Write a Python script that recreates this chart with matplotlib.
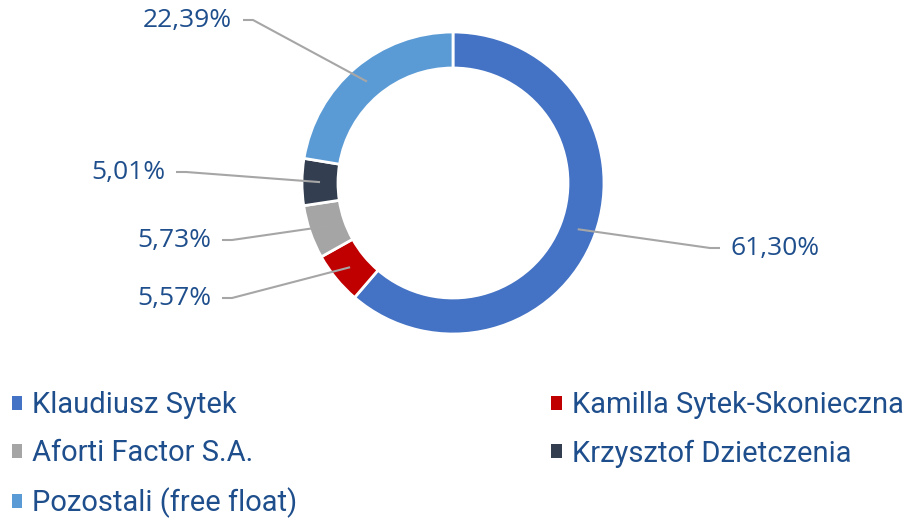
import numpy as np
import matplotlib.pyplot as plt
from matplotlib.patches import Patch

names = ['Klaudiusz Sytek', 'Kamilla Sytek-Skonieczna', 'Aforti Factor S.A.',
         'Krzysztof Dzietczenia', 'Pozostali (free float)']
shares = [61.30, 5.57, 5.73, 5.01, 22.39]
colors = ['#4472C4', '#C00000', '#A5A5A5', '#333F50', '#5B9BD5']

# label anchor points (pixels, y from top) and which side the text sits on
label_pos = [(731, 248, 'left'), (211, 298, 'right'), (211, 240, 'right'),
             (165, 172, 'right'), (232, 20, 'right')]

W, H = 917, 520
fig = plt.figure(figsize=(W / 100, H / 100), dpi=100)
ax = fig.add_axes([0, 0, 1, 1])

cx, cy, r_out, ring = 453, H - 183, 151, 36
wedges, _ = ax.pie(shares, colors=colors, center=(cx, cy), radius=r_out,
                   startangle=90, counterclock=False, frame=True,
                   wedgeprops=dict(width=ring, edgecolor='white', linewidth=2))
ax.set_xlim(0, W)
ax.set_ylim(0, H)
ax.set_aspect('equal')
ax.axis('off')

text_color = '#1E4E8C'
line_color = '#A6A6A6'
r_mid = r_out - 18
for w, val, (tx, ty, side) in zip(wedges, shares, label_pos):
    ang = np.deg2rad((w.theta1 + w.theta2) / 2)
    px = cx + r_mid * np.cos(ang)
    py = cy + r_mid * np.sin(ang)
    ty = H - ty
    if side == 'left':
        x0, x1 = tx - 11, tx - 21
    else:
        x0, x1 = tx + 11, tx + 21
    ax.plot([x0, x1, px], [ty, ty, py], color=line_color, lw=1.5,
            solid_capstyle='butt')
    ax.text(tx, ty, f'{val:.2f}%'.replace('.', ','), ha=side, va='center',
            fontsize=19, color=text_color, family='Open Sans')

handles = [Patch(facecolor=c, edgecolor='none') for c in colors]
order = [0, 2, 4, 1, 3]
leg = ax.legend([handles[i] for i in order], [names[i] for i in order],
                ncol=2, loc='upper left', bbox_to_anchor=(0.0, 0.27),
                frameon=False, handlelength=0.36,
                handleheight=0.36, handletextpad=0.35, labelspacing=0.69,
                columnspacing=8.7, borderaxespad=0,
                prop={'family': 'Roboto', 'size': 21})
for t in leg.get_texts():
    t.set_color(text_color)

fig.savefig('out.png', dpi=100)
